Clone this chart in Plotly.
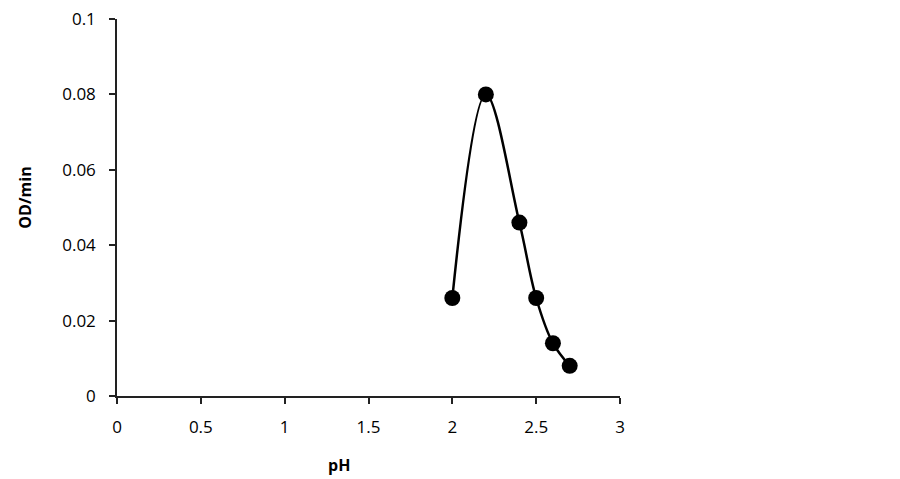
import plotly.graph_objects as go

ph = [2.0, 2.2, 2.4, 2.5, 2.6, 2.7]
od_per_min = [0.026, 0.080, 0.046, 0.026, 0.014, 0.008]

x_ticks = [0, 0.5, 1, 1.5, 2, 2.5, 3]
x_labels = ["0", "0.5", "1", "1.5", "2", "2.5", "3"]
y_ticks = [0, 0.02, 0.04, 0.06, 0.08, 0.1]
y_labels = ["0", "0.02", "0.04", "0.06", "0.08", "0.1"]

font_family = "Open Sans, sans-serif"

fig = go.Figure(go.Scatter(
    x=ph, y=od_per_min,
    mode="lines+markers",
    line=dict(color="black", width=2.5, shape="spline", smoothing=1.0),
    marker=dict(color="black", size=16),
    showlegend=False,
))

axis_common = dict(
    showgrid=False, zeroline=False, automargin=False,
    showline=True, linecolor="#222", linewidth=1.5,
    ticks="outside", ticklen=6, tickwidth=1.5, tickcolor="#222",
    ticklabeloverflow="allow",
    tickfont=dict(family=font_family, size=17, color="black"),
)

fig.update_xaxes(range=[0, 3], tickvals=x_ticks, ticktext=x_labels,
                 ticklabelstandoff=9, **axis_common)
fig.update_yaxes(range=[0, 0.1], tickvals=y_ticks, ticktext=y_labels,
                 ticklabelstandoff=10, **axis_common)

# axis titles placed as annotations (reference puts pH left of centre)
title_font = dict(family=font_family, size=16, color="black")
fig.add_annotation(text="<b>pH</b>", xref="paper", yref="paper",
                   x=0.441, y=-0.1825, xanchor="center", yanchor="middle",
                   showarrow=False, font=title_font)
fig.add_annotation(text="<b>OD/min</b>", xref="paper", yref="paper",
                   x=-0.183, y=0.526, xanchor="center", yanchor="middle",
                   textangle=-90, showarrow=False, font=title_font)

# page body adds ~8px offset, so the figure is sized to fit the window
fig.update_layout(
    width=892, height=471,
    margin=dict(l=109, r=280, t=11, b=83),
    plot_bgcolor="white", paper_bgcolor="white",
)

fig.write_html("out.html")
